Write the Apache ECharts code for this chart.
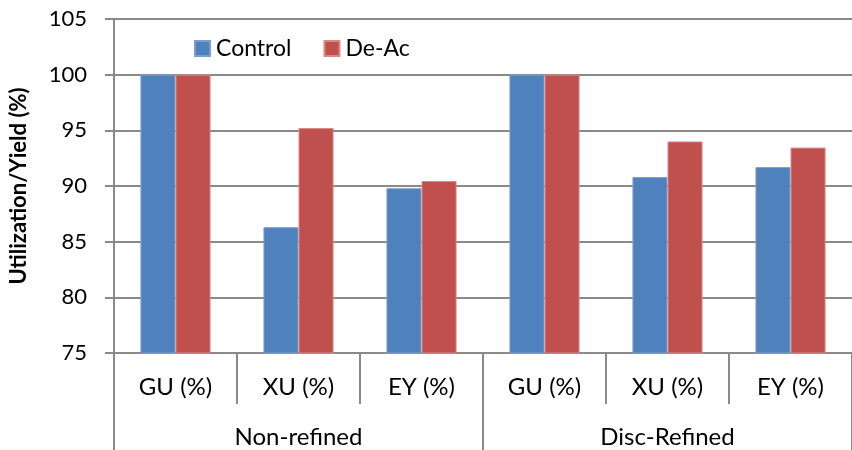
<!DOCTYPE html>
<html>
<head>
<meta charset="utf-8">
<script src="https://cdn.jsdelivr.net/npm/echarts@6/dist/echarts.min.js"></script>
<style>
  html, body { margin: 0; padding: 0; background: #fff; }
  #chart { width: 852px; height: 450px; }
</style>
</head>
<body>
<div id="chart"></div>
<script>
// Measured categories, one per bar pair, and the two process groups below them
const categories = ['GU (%)', 'XU (%)', 'EY (%)', 'GU (%)', 'XU (%)', 'EY (%)'];
const groups = ['Non-refined', 'Disc-Refined'];
const controlValues = [100, 86.3, 89.8, 100, 90.8, 91.7];
const deAcValues = [100, 95.2, 90.45, 100, 94.0, 93.45];
const seriesNames = ['Control', 'De-Ac'];

const FONT = 'Lato, "Open Sans", sans-serif';
const GRID_GRAY = '#8a8a8a';

const chart = echarts.init(document.getElementById('chart'), null, { renderer: 'canvas' });

chart.setOption({
  animation: false,
  backgroundColor: '#ffffff',
  textStyle: { fontFamily: FONT },
  grid: { left: 112, top: 19, width: 748, height: 334, containLabel: false },
  legend: {
    left: 189,
    top: 32,
    itemWidth: 15,
    itemHeight: 15,
    itemGap: 32,
    icon: 'rect',
    textStyle: { fontFamily: FONT, fontSize: 23, color: '#000', padding: [0, 0, 0, 1] },
    data: seriesNames
  },
  xAxis: [
    {
      type: 'category',
      data: categories,
      position: 'bottom',
      axisLine: { show: true, lineStyle: { color: GRID_GRAY, width: 2 } },
      axisTick: { show: true, interval: 0, length: 51, lineStyle: { color: GRID_GRAY, width: 2 } },
      axisLabel: { interval: 0, margin: 22, fontFamily: FONT, fontSize: 24, color: '#000' }
    },
    {
      type: 'category',
      data: groups,
      position: 'bottom',
      axisLine: { show: false },
      axisTick: { show: true, interval: 0, length: 98, lineStyle: { color: GRID_GRAY, width: 2 } },
      axisLabel: { interval: 0, margin: 72, fontFamily: FONT, fontSize: 24, color: '#000' }
    }
  ],
  yAxis: {
    type: 'value',
    min: 75,
    max: 105,
    interval: 5,
    name: 'Utilization/Yield (%)',
    nameLocation: 'middle',
    nameGap: 84,
    nameTextStyle: { fontFamily: FONT, fontSize: 22, fontWeight: 'bold', color: '#000' },
    axisLine: { show: true, lineStyle: { color: GRID_GRAY, width: 2 } },
    axisTick: { show: true, length: 9, lineStyle: { color: GRID_GRAY, width: 2 } },
    axisLabel: { margin: 27, fontFamily: FONT, fontSize: 22, color: '#000' },
    splitLine: { show: true, lineStyle: { color: GRID_GRAY, width: 2 } }
  },
  series: [
    {
      name: seriesNames[0],
      type: 'bar',
      xAxisIndex: 0,
      data: controlValues,
      barGap: '0%',
      barCategoryGap: '43%',
      itemStyle: { color: '#4F81BD', borderColor: '#7B9FD2', borderWidth: 1 }
    },
    {
      name: seriesNames[1],
      type: 'bar',
      xAxisIndex: 0,
      data: deAcValues,
      barGap: '0%',
      barCategoryGap: '43%',
      itemStyle: { color: '#C0504D', borderColor: '#D98886', borderWidth: 1 }
    }
  ]
});
</script>
</body>
</html>
